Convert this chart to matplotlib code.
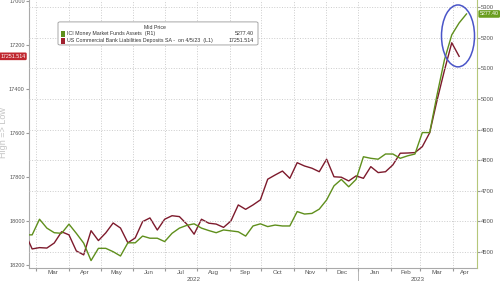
import numpy as np
import pandas as pd
import matplotlib
matplotlib.use('Agg')
import matplotlib.pyplot as plt
import matplotlib.dates as mdates
import matplotlib.transforms as mtransforms
from matplotlib.patches import Ellipse, FancyBboxPatch

plt.rcParams['font.family'] = ['Liberation Sans', 'DejaVu Sans']

# Dados semanais (o primeiro ponto fica fora do eixo, como no original)
datas_dep = pd.date_range('2022-02-18', periods=60, freq='7D')
depositos = [18053, 18127, 18121, 18123, 18100, 18049, 18063, 18136, 18154, 18044,
             18089, 18054, 18009, 18032, 18099, 18077, 18003, 17986, 18041, 17992,
             17976, 17980, 18014, 18060, 17992, 18010, 18014, 18029, 18000, 17927,
             17947, 17927, 17904, 17810, 17791, 17773, 17806, 17735, 17750, 17760,
             17776, 17719, 17799, 17801, 17818, 17795, 17806, 17753, 17780, 17776,
             17745, 17692, 17691, 17689, 17662, 17599, 17452, 17316, 17190, 17251.514]

datas_mmf = pd.date_range('2022-02-18', periods=61, freq='7D')
mmf = [4556, 4556, 4607, 4578, 4563, 4561, 4591, 4561, 4529, 4472, 4512,
       4512, 4501, 4487, 4530, 4530, 4552, 4545, 4545, 4534, 4561,
       4578, 4587, 4592, 4578, 4570, 4563, 4572, 4569, 4566, 4552,
       4585, 4592, 4583, 4588, 4585, 4585, 4632, 4624, 4626, 4640,
       4670, 4716, 4737, 4713, 4737, 4811, 4806, 4803, 4820, 4820,
       4806, 4814, 4820, 4890, 4890, 5013, 5127, 5209, 5248, 5277.40]

ticks_esq = [17000, 17200, 17400, 17600, 17800, 18000, 18200]
ticks_dir = [4500, 4600, 4700, 4800, 4900, 5000, 5100, 5200, 5300]

cor_dep = '#7d1a2c'
cor_mmf = '#5f8f1c'
cinza = '#555555'

x_ini = pd.Timestamp('2022-02-22')
x_fim = pd.Timestamp('2023-04-24')

fig = plt.figure(figsize=(5, 2.81), dpi=100)
ax = fig.add_axes([0.058, 0.0463, 0.896, 0.9537])
ax2 = ax.twinx()

ax.plot(datas_dep, depositos, color=cor_dep, lw=1.0, zorder=3)
ax2.plot(datas_mmf, mmf, color=cor_mmf, lw=1.0, zorder=2)

ax.set_xlim(x_ini, x_fim)
ax.set_ylim(18213.6, 16995.5)   # invertido: High => Low
ax2.set_ylim(4447.8, 5322.9)

ax.set_yticks(ticks_esq)
ax.set_yticklabels([str(t) for t in ticks_esq])
ax2.set_yticks(ticks_dir)
ax2.set_yticklabels([str(t) for t in ticks_dir])

# meses: ticks no início, rótulos no meio da parte visível
inicios = pd.date_range('2022-03-01', '2023-04-01', freq='MS')
ax.set_xticks(inicios)
ax.set_xticklabels([''] * len(inicios))
centros, nomes = [], []
for m in inicios:
    a = max(m, x_ini)
    b = min(m + pd.offsets.MonthBegin(1), x_fim)
    centros.append(a + (b - a) / 2)
    nomes.append(m.strftime('%b'))
ax.set_xticks(centros, minor=True)
ax.set_xticklabels(nomes, minor=True)
ax.tick_params(axis='x', which='major', length=2, color='#999999')
ax.tick_params(axis='x', which='minor', length=0, pad=1.5, labelsize=4.5, labelcolor=cinza)
ax.tick_params(axis='y', length=2, pad=1, labelsize=4.0, labelcolor=cinza, color='#999999')
ax2.tick_params(axis='y', length=2, pad=1, labelsize=4.2, labelcolor=cinza, color='#999999')

# grade pontilhada
ax.grid(axis='x', which='major', color='#cccccc', ls=':', lw=0.7)
ax2.grid(axis='y', color='#cccccc', ls=':', lw=0.7)
ax.set_axisbelow(True)

for s in ['top']:
    ax.spines[s].set_visible(False)
    ax2.spines[s].set_visible(False)
ax.spines['left'].set_color('#aaaaaa')
ax.spines['bottom'].set_color('#aaaaaa')
ax2.spines['left'].set_visible(False)
ax2.spines['bottom'].set_visible(False)
ax2.spines['right'].set_color('#b5c77a')
ax.spines['right'].set_visible(False)

# anos e separador
trans = mtransforms.blended_transform_factory(ax.transData, ax.transAxes)
anos = [(x_ini, pd.Timestamp('2023-01-01'), '2022'), (pd.Timestamp('2023-01-01'), x_fim, '2023')]
for a, b, nome in anos:
    ax.text(a + (b - a) / 2, -0.034, nome, transform=trans, ha='center', va='top',
            fontsize=4.5, color=cinza)
ax.plot([pd.Timestamp('2023-01-01')] * 2, [0, -0.06], transform=trans, color='#aaaaaa',
        lw=0.6, clip_on=False)

# rótulo do eixo esquerdo
fig.text(0.008, 0.53, 'High => Low', rotation=90, ha='center', va='center',
         fontsize=6.5, color='#c4c4c4')

# etiquetas do último valor
t_esq = mtransforms.blended_transform_factory(ax.transAxes, ax.transData)
ax.text(-0.008, depositos[-1], f'{depositos[-1]:.3f}', transform=t_esq, ha='right',
        va='center', fontsize=3.8, color='white', clip_on=False,
        bbox=dict(boxstyle='round,pad=0.25', fc='#c0272f', ec='none'))
t_dir = mtransforms.blended_transform_factory(ax2.transAxes, ax2.transData)
ax2.text(1.006, mmf[-1], f'{mmf[-1]:.2f}', transform=t_dir, ha='left',
         va='center', fontsize=3.8, color='white', clip_on=False,
         bbox=dict(boxstyle='round,pad=0.25', fc='#6a9e1f', ec='none'))

# elipse azul
ax2.add_patch(Ellipse((0.9576, 0.866), 0.0737, 0.231, transform=ax.transAxes,
                      fill=False, ec='#4a55c8', lw=1.1, zorder=5))

# legenda manual
caixa = FancyBboxPatch((0.116, 0.840), 0.400, 0.082, transform=fig.transFigure,
                       boxstyle='round,pad=0,rounding_size=0.004', fc='white',
                       ec='#999999', lw=0.6, zorder=10)
fig.patches.append(caixa)
fig.text(0.31, 0.903, 'Mid Price', ha='center', va='center', fontsize=3.8,
         color='#333333', zorder=11)
linhas = [(0.880, cor_mmf, 'ICI Money Market Funds Assets  (R1)', f'{mmf[-1]:.2f}'),
          (0.855, '#a0202e', 'US Commercial Bank Liabilities Deposits SA -  on 4/5/23  (L1)',
           f'{depositos[-1]:.3f}')]
for y, c, txt, val in linhas:
    fig.patches.append(plt.Rectangle((0.121, y - 0.011), 0.008, 0.022, transform=fig.transFigure,
                                     fc=c, ec='none', zorder=11))
    fig.text(0.134, y, txt, ha='left', va='center', fontsize=3.8, color='#333333', zorder=11)
    fig.text(0.507, y, val, ha='right', va='center', fontsize=3.8, color='#333333', zorder=11)

plt.savefig('out.png', dpi=100)
plt.close(fig)
